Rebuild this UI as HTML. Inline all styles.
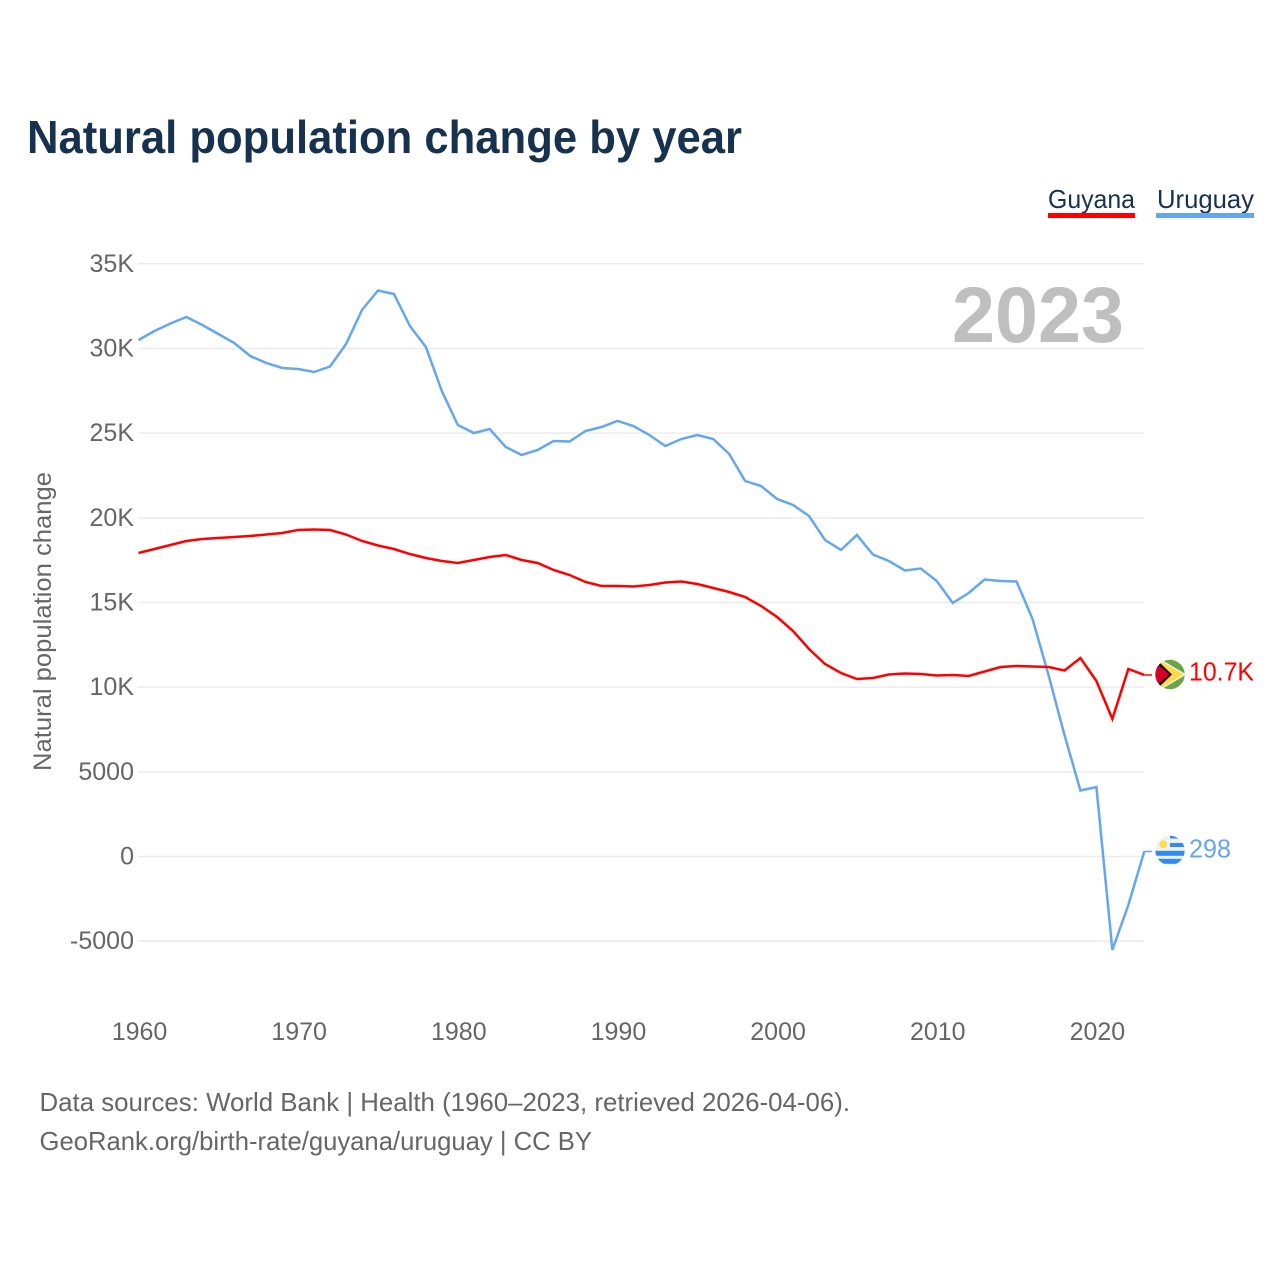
<!DOCTYPE html>
<html lang="en">
<head>
<meta charset="utf-8">
<title>Natural population change by year</title>
<style>
html,body{margin:0;padding:0;background:#fff}
svg{display:block}
text{font-family:"Liberation Sans",sans-serif}
</style>
</head>
<body>
<svg id="chart" width="1280" height="1280" viewBox="0 0 1280 1280" xmlns="http://www.w3.org/2000/svg">
  <defs>
    <clipPath id="guyana-clip"><circle cx="1170" cy="674.5" r="14.7"/></clipPath>
    <clipPath id="uruguay-clip"><circle cx="1170" cy="850.5" r="14.7"/></clipPath>
  </defs>
  <text x="27" y="153" font-size="46" font-weight="700" fill="#17324f" textLength="715" lengthAdjust="spacingAndGlyphs">Natural population change by year</text>

  <g>
    <text x="1048" y="208" font-size="26" fill="#17324f" textLength="87" lengthAdjust="spacingAndGlyphs">Guyana</text>
    <rect x="1048" y="213" width="87" height="5" fill="#ff0000"/>
  </g>
  <g>
    <text x="1157" y="208" font-size="26" fill="#17324f" textLength="97" lengthAdjust="spacingAndGlyphs">Uruguay</text>
    <rect x="1156" y="213" width="98" height="5" fill="#64a7ec"/>
  </g>

  <g id="grid"></g>
  <g id="y-ticks"></g>
  <g id="x-ticks"></g>

  <text x="952" y="342" font-size="79" font-weight="700" fill="#bfbfbf" textLength="172" lengthAdjust="spacingAndGlyphs">2023</text>
  <text transform="translate(51 771) rotate(-90)" font-size="25" fill="#666666" textLength="299" lengthAdjust="spacingAndGlyphs">Natural population change</text>

  <g id="series"></g>

  <g clip-path="url(#guyana-clip)">
    <rect x="1155" y="659" width="30" height="31" fill="#6da544"/>
    <polygon points="1157,658 1185,674.5 1157,691" fill="#ffda44" stroke="#f0f0f0" stroke-width="1.5"/>
    <polygon points="1157,660 1172,674.5 1157,689" fill="#111111"/>
    <polygon points="1153,660.5 1169.5,674.5 1153,688.5" fill="#d80027"/>
  </g>
  <g clip-path="url(#uruguay-clip)">
    <rect x="1155" y="835" width="30" height="31" fill="#f0f0f0"/>
    <rect x="1170" y="835" width="15" height="3.5" fill="#338af3"/>
    <rect x="1170" y="843" width="15" height="4" fill="#338af3"/>
    <rect x="1155" y="850.8" width="30" height="5" fill="#338af3"/>
    <rect x="1155" y="858.8" width="30" height="5" fill="#338af3"/>
    <circle cx="1163.3" cy="844.3" r="3.8" fill="#ffda44"/>
  </g>

  <text x="1189" y="680.5" font-size="26" fill="#ff0000" textLength="65" lengthAdjust="spacingAndGlyphs">10.7K</text>
  <text x="1189" y="857.5" font-size="26" fill="#64a7ec" textLength="42" lengthAdjust="spacingAndGlyphs">298</text>

  <text x="39.5" y="1111" font-size="26" fill="#666666" textLength="810.5" lengthAdjust="spacingAndGlyphs">Data sources: World Bank | Health (1960–2023, retrieved 2026-04-06).</text>
  <text x="39.5" y="1150" font-size="26" fill="#666666" textLength="552.5" lengthAdjust="spacingAndGlyphs">GeoRank.org/birth-rate/guyana/uruguay | CC BY</text>
</svg>
<script>
const startYear = 1960;
const yTickValues = [35000, 30000, 25000, 20000, 15000, 10000, 5000, 0, -5000];
const yTickLabels = ["35K", "30K", "25K", "20K", "15K", "10K", "5000", "0", "-5000"];
const xTickYears = [1960, 1970, 1980, 1990, 2000, 2010, 2020];
const guyanaValues = [17923,18159,18395,18631,18749,18808,18867,18926,19015,19104,19281,19310,19281,19015,18631,18365,18159,17863,17627,17450,17332,17509,17686,17804,17509,17332,16919,16623,16210,15974,15974,15944,16033,16180,16240,16092,15856,15619,15324,14793,14143,13316,12253,11368,10836,10482,10541,10748,10807,10777,10689,10718,10659,10925,11190,11249,11220,11190,10984,11722,10364,8120,11072,10718];
const uruguayValues = [30501,31032,31475,31859,31387,30855,30324,29556,29143,28847,28788,28611,28936,30264,32273,33424,33217,31327,30087,27489,25481,25009,25245,24182,23710,24005,24536,24507,25127,25363,25718,25422,24891,24241,24654,24891,24654,23769,22174,21879,21111,20757,20107,18690,18100,18985,17834,17450,16889,17007,16269,14970,15560,16358,16269,16240,14025,10718,7175,3897,4104,-5521,-2864,298];

const SVG_NS = "http://www.w3.org/2000/svg";
const xScale = function (year) { return 138.5 + (year - 1960) * 15.965; };
const yScale = function (value) { return 856.5 - value * 0.016934; };

const grid = document.getElementById("grid");
const yTicks = document.getElementById("y-ticks");
yTickValues.forEach(function (value, i) {
  const line = document.createElementNS(SVG_NS, "line");
  
  
  line.setAttribute("x1", 138);
  line.setAttribute("x2", 1144);
  line.setAttribute("y1", yScale(value));
  line.setAttribute("y2", yScale(value));
  line.setAttribute("stroke", "#ececec");
  line.setAttribute("stroke-width", "1.5");
  grid.appendChild(line);

  const label = document.createElementNS(SVG_NS, "text");
  
  
  label.setAttribute("x", 134);
  label.setAttribute("y", yScale(value) + 8);
  label.setAttribute("text-anchor", "end");
  label.setAttribute("font-size", "25");
  label.setAttribute("fill", "#666666");
  label.textContent = yTickLabels[i];
  yTicks.appendChild(label);
});

const xTicks = document.getElementById("x-ticks");
xTickYears.forEach(function (year) {
  const label = document.createElementNS(SVG_NS, "text");
  
  
  label.setAttribute("x", xScale(year) + 1);
  label.setAttribute("y", 1040);
  label.setAttribute("text-anchor", "middle");
  label.setAttribute("font-size", "25");
  label.setAttribute("fill", "#666666");
  label.textContent = String(year);
  xTicks.appendChild(label);
});

const seriesGroup = document.getElementById("series");
function drawSeries(values, color, name) {
  const points = values.map(function (value, i) {
    return xScale(startYear + i).toFixed(2) + "," + yScale(value).toFixed(2);
  });
  const path = document.createElementNS(SVG_NS, "polyline");
  
  
  path.setAttribute("points", points.join(" "));
  path.setAttribute("fill", "none");
  path.setAttribute("stroke", color);
  path.setAttribute("stroke-width", "2.5");
  path.setAttribute("stroke-linejoin", "miter");
  seriesGroup.appendChild(path);

  const lastValue = values[values.length - 1];
  const connector = document.createElementNS(SVG_NS, "line");
  
  
  connector.setAttribute("x1", xScale(startYear + values.length - 1));
  connector.setAttribute("x2", 1152);
  connector.setAttribute("y1", yScale(lastValue));
  connector.setAttribute("y2", yScale(lastValue));
  connector.setAttribute("stroke", color);
  connector.setAttribute("stroke-width", "1.5");
  seriesGroup.appendChild(connector);
}
drawSeries(uruguayValues, "#64a7ec", "uruguay-line");
drawSeries(guyanaValues, "#ff0000", "guyana-line");
</script>
</body>
</html>
